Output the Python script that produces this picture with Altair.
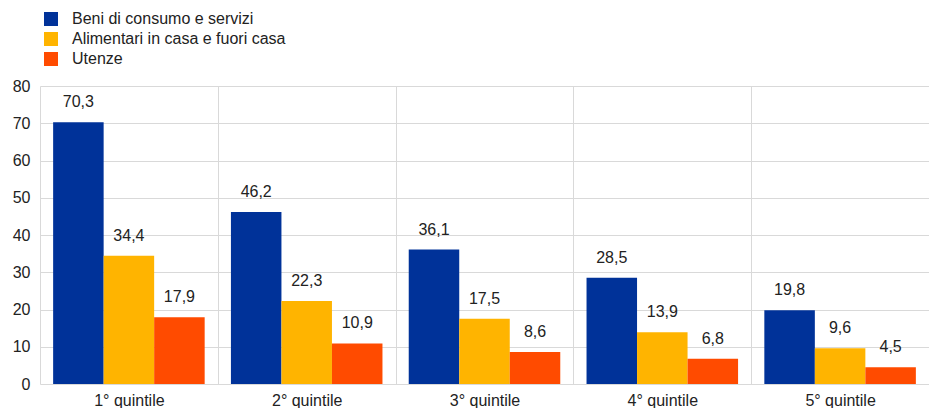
import altair as alt
import pandas as pd

categories = ["1° quintile", "2° quintile", "3° quintile", "4° quintile", "5° quintile"]
series = ["Beni di consumo e servizi", "Alimentari in casa e fuori casa", "Utenze"]
colors = ["#003299", "#FFB400", "#FF4B00"]
beni = [70.3, 46.2, 36.1, 28.5, 19.8]
alimentari = [34.4, 22.3, 17.5, 13.9, 9.6]
utenze = [17.9, 10.9, 8.6, 6.8, 4.5]

rows = []
for s, vals in zip(series, [beni, alimentari, utenze]):
    for c, v in zip(categories, vals):
        rows.append({"cat": c, "serie": s, "val": v, "lab": f"{v:.1f}".replace(".", ",")})
df = pd.DataFrame(rows)

FONT = "Liberation Sans"
FS = 16

base = alt.Chart(df).encode(
    x=alt.X("cat:N", sort=categories, title=None,
            scale=alt.Scale(paddingInner=0, paddingOuter=0),
            axis=alt.Axis(labelAngle=0, tickBand="extent", grid=True, ticks=False,
                          domain=False, labelFontSize=FS, labelPadding=8,
                          labelColor="#222222", labelFont=FONT,
                          gridColor="#d9d9d9")),
    xOffset=alt.XOffset("serie:N", sort=series,
                        scale=alt.Scale(paddingInner=0, paddingOuter=0.26)),
    y=alt.Y("val:Q", title=None,
            scale=alt.Scale(domain=[0, 80], nice=False),
            axis=alt.Axis(values=list(range(0, 81, 10)), ticks=False, domain=False,
                          labelFontSize=FS, labelPadding=10, labelColor="#222222",
                          labelFont=FONT, gridColor="#d9d9d9")),
)

bars = base.mark_bar().encode(
    color=alt.Color("serie:N", sort=series,
                    scale=alt.Scale(domain=series, range=colors),
                    legend=alt.Legend(title=None, orient="none", legendX=3, legendY=-75,
                                      symbolType="square", symbolSize=196,
                                      symbolStrokeWidth=0, labelFontSize=FS,
                                      labelFont=FONT, labelColor="#222222",
                                      labelOffset=13, rowPadding=4, padding=0,
                                      labelLimit=400)),
)

labels = base.mark_text(baseline="bottom", dy=-12, fontSize=FS, font=FONT,
                        color="#222222").encode(text="lab:N")

chart = alt.layer(bars, labels).properties(
    width=889, height=298,
    autosize=alt.AutoSizeParams(type="none"),
    padding={"left": 32, "top": 78, "right": 0, "bottom": 24},
).configure_view(stroke=None)

chart.save("out.html", embed_options={"renderer": "svg", "actions": False})
